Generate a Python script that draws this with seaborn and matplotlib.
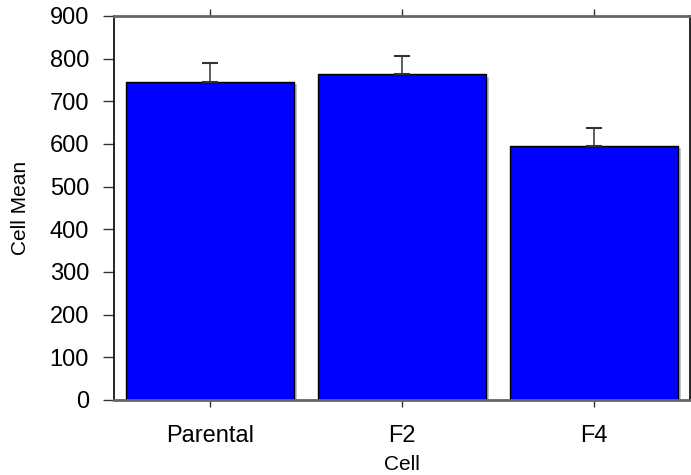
import matplotlib
matplotlib.use("Agg")
import matplotlib.pyplot as plt
import seaborn as sns
import pandas as pd

cells = ["Parental", "F2", "F4"]
means = [745, 763, 595]
errors = [44, 44, 43]

sns.set_style("ticks")
plt.rcParams["font.family"] = ["Liberation Sans", "DejaVu Sans"]
plt.rcParams["text.color"] = "black"
plt.rcParams["axes.labelcolor"] = "black"
plt.rcParams["xtick.labelcolor"] = "black"
plt.rcParams["ytick.labelcolor"] = "black"

df = pd.DataFrame({"Cell": cells, "Cell Mean": means})

fig = plt.figure(figsize=(6.91, 4.75), dpi=100)
ax = fig.add_axes([114 / 691, 75 / 475, 576 / 691, 384 / 475])

# drop shadow behind bars
ax.bar([i + 0.015 for i in range(len(cells))], [m - 3 for m in means],
       width=0.88, bottom=0, color="#b8b8b8", zorder=1)
sns.barplot(data=df, x="Cell", y="Cell Mean", color="#0000ff", saturation=1,
            width=0.88, edgecolor="black", linewidth=1, errorbar=None, ax=ax,
            zorder=2)
ax.errorbar(range(len(cells)), means, yerr=[[0] * len(cells), errors],
            fmt="none", ecolor="#333333", elinewidth=1.1, capsize=6,
            capthick=1.5, zorder=3)

ax.set_xlim(-0.5, 2.5)
ax.set_ylim(0, 900)
ax.set_yticks(range(0, 901, 100))
ax.tick_params(axis="y", labelsize=17, length=8, width=1, pad=10,
               color="#333333")
ax.tick_params(axis="x", labelsize=17, length=5, width=1, top=True,
               color="#333333", pad=13)
ax.set_xlabel("Cell", fontsize=15)
ax.set_ylabel("Cell Mean", fontsize=15)
ax.xaxis.set_label_coords(0.5, -0.142)
ax.yaxis.set_label_coords(-0.145, 0.5)

for side in ["left", "right"]:
    ax.spines[side].set_visible(True)
    ax.spines[side].set_color("black")
    ax.spines[side].set_linewidth(1.2)
for side in ["top", "bottom"]:
    ax.spines[side].set_visible(True)
    ax.spines[side].set_color("#666666")
    ax.spines[side].set_linewidth(2)

fig.savefig("out.png", dpi=100)
plt.close(fig)
